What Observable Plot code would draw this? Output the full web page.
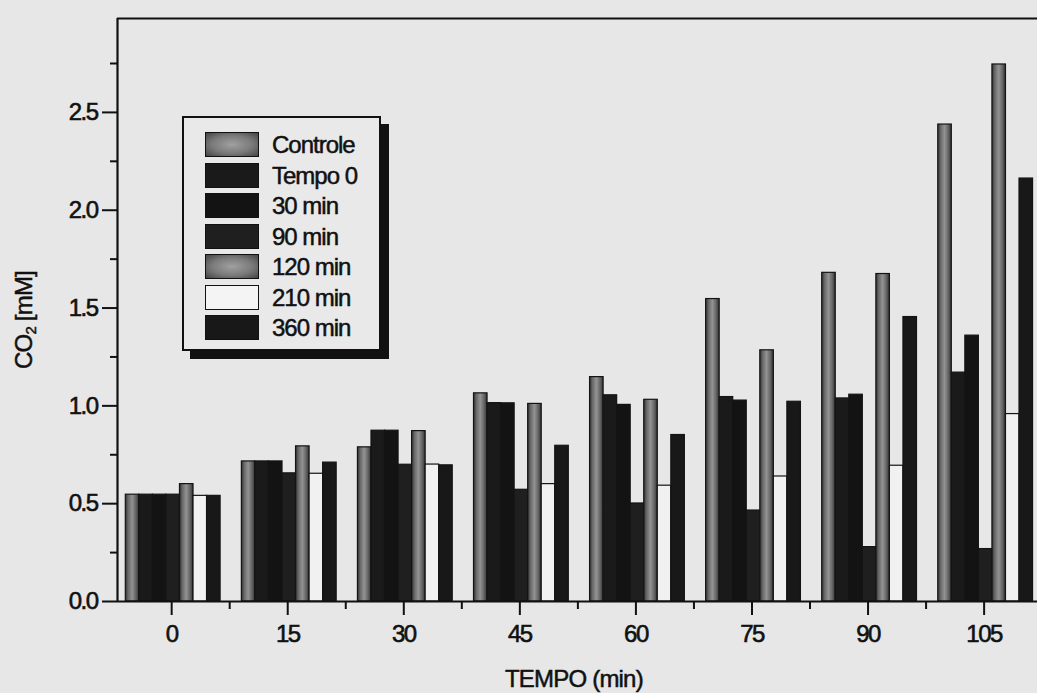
<!DOCTYPE html>
<html>
<head>
<meta charset="utf-8">
<script src="https://cdn.jsdelivr.net/npm/d3@7"></script>
<script src="https://cdn.jsdelivr.net/npm/@observablehq/plot@0.6"></script>
<style>
  html, body { margin: 0; padding: 0; background: #e7e7e7; }
  #wrap { position: relative; width: 1037px; height: 693px; overflow: hidden; background: #e7e7e7;
          font-family: "Liberation Sans", Arial, sans-serif; color: #111; }
  #wrap svg text { letter-spacing: -1.5px; stroke: #111; stroke-width: 0.6px; }
  .lab { position: absolute; font-size: 24px; letter-spacing: -0.8px; white-space: nowrap; -webkit-text-stroke: 0.5px #111; }
  #legend { position: absolute; left: 182px; top: 116px; width: 195px; height: 231px;
            border: 2px solid #111; background: #e9e9e9; box-shadow: 8px 8px 0 #111; }
  .row { position: absolute; left: 21px; height: 25px; }
  .sw { position: absolute; left: 0; top: 0; width: 54px; height: 25px; box-sizing: border-box; border: 1px solid #111; }
  .tx { position: absolute; left: 67px; top: -1px; font-size: 24px; line-height: 27px; letter-spacing: -1px; white-space: nowrap; -webkit-text-stroke: 0.5px #111; }
</style>
</head>
<body>
<div id="wrap"></div>
<script>
// ---- data ----
const times = [0, 15, 30, 45, 60, 75, 90, 105];
const series = ["Controle", "Tempo 0", "30 min", "90 min", "120 min", "210 min", "360 min"];
const controle = [0.546, 0.716, 0.788, 1.064, 1.147, 1.546, 1.680, 2.438];
const tempo0   = [0.546, 0.716, 0.873, 1.014, 1.054, 1.045, 1.038, 1.170];
const min30    = [0.546, 0.716, 0.873, 1.013, 1.005, 1.027, 1.057, 1.359];
const min90    = [0.546, 0.655, 0.699, 0.571, 0.501, 0.465, 0.278, 0.268];
const min120   = [0.600, 0.793, 0.871, 1.010, 1.031, 1.284, 1.674, 2.745];
const min210   = [0.540, 0.653, 0.700, 0.600, 0.592, 0.639, 0.694, 0.958];
const min360   = [0.540, 0.710, 0.696, 0.796, 0.851, 1.021, 1.454, 2.162];
const seriesValues = [controle, tempo0, min30, min90, min120, min210, min360];

const xTicks = [0, 15, 30, 45, 60, 75, 90, 105];
const xMinorTicks = [7.5, 22.5, 37.5, 52.5, 67.5, 82.5, 97.5];
const yTicks = [0, 0.5, 1.0, 1.5, 2.0, 2.5];
const yMinorTicks = [0.25, 0.75, 1.25, 1.75, 2.25, 2.75];
const xDomain = [-7, 111.9];
const yDomain = [0, 2.98];

// bar layout inside each time group (in minutes)
const barW = 1.75;
const groupOffset = 0.2 - (series.length * barW) / 2;

const rows = [];
series.forEach((s, i) => {
  times.forEach((t, j) => {
    const x1 = t + groupOffset + i * barW;
    rows.push({ series: s, time: t, value: seriesValues[i][j], x1, x2: x1 + barW });
  });
});

const fills = ["url(#gGray)", "#1a1a1a", "#131313", "#1f1f1f", "url(#gGray)", "#f1f1f1", "#181818"];

const chart = Plot.plot({
  width: 1037,
  height: 693,
  marginLeft: 117,
  marginRight: 0,
  marginTop: 18,
  marginBottom: 92,
  style: { background: "transparent", fontFamily: "Liberation Sans, Arial, sans-serif", color: "#111", overflow: "visible" },
  x: { domain: xDomain, axis: null },
  y: { domain: yDomain, axis: null },
  color: { domain: series, range: fills, legend: false },
  marks: [
    Plot.rectY(rows, { x1: "x1", x2: "x2", y1: 0, y2: "value", fill: "series", stroke: "#141414", strokeWidth: 1.2 }),
    Plot.ruleY([yDomain[0]], { stroke: "#111", strokeWidth: 2.2 }),
    Plot.ruleY([yDomain[1]], { stroke: "#111", strokeWidth: 2 }),
    Plot.ruleX([xDomain[0]], { stroke: "#111", strokeWidth: 2.2 }),
    Plot.axisY({ ticks: yTicks, tickSize: 15, tickPadding: 5, tickFormat: d3.format(".1f"), fontSize: 24, label: null, strokeWidth: 2 }),
    Plot.axisY({ ticks: yMinorTicks, tickSize: 7, tickFormat: () => "", label: null, strokeWidth: 2 }),
    Plot.axisX({ ticks: xTicks, tickSize: 14, tickPadding: 9, tickFormat: d => String(d), fontSize: 24, label: null, strokeWidth: 2 }),
    Plot.axisX({ ticks: xMinorTicks, tickSize: 8, tickFormat: () => "", label: null, strokeWidth: 2 })
  ]
});

// gradient for the grey (screened) bars
const NS = "http://www.w3.org/2000/svg";
const defs = document.createElementNS(NS, "defs");
const grad = document.createElementNS(NS, "linearGradient");
grad.setAttribute("id", "gGray");
grad.setAttribute("x1", "0"); grad.setAttribute("x2", "1");
grad.setAttribute("y1", "0"); grad.setAttribute("y2", "0");
[[0, "#333333"], [0.22, "#6a6a6a"], [0.5, "#939393"], [0.78, "#646464"], [1, "#323232"]].forEach(([o, c]) => {
  const st = document.createElementNS(NS, "stop");
  st.setAttribute("offset", o);
  st.setAttribute("stop-color", c);
  grad.appendChild(st);
});
defs.appendChild(grad);
chart.insertBefore(defs, chart.firstChild);

const wrap = document.getElementById("wrap");
wrap.appendChild(chart);

// axis titles
const xl = document.createElement("div");
xl.className = "lab";
xl.style.left = "505px"; xl.style.top = "665px";
xl.textContent = "TEMPO (min)";
wrap.appendChild(xl);

const yl = document.createElement("div");
yl.className = "lab";
yl.innerHTML = "CO<sub style=\"font-size:15px;vertical-align:-4px\">2</sub> [mM]";
yl.style.left = "24px"; yl.style.top = "320px";
yl.style.transform = "translate(-50%,-50%) rotate(-90deg)";
wrap.appendChild(yl);

// legend
const legend = document.createElement("div");
legend.id = "legend";
const swatchCss = [
  "radial-gradient(ellipse at center, #a0a0a0 0%, #7a7a7a 55%, #444 100%)",
  "#1a1a1a", "#131313", "#1f1f1f",
  "radial-gradient(ellipse at center, #a0a0a0 0%, #7a7a7a 55%, #444 100%)",
  "#f4f4f4", "#181818"
];
series.forEach((s, i) => {
  const r = document.createElement("div");
  r.className = "row";
  r.style.top = (14 + i * 30.5) + "px";
  const sw = document.createElement("div");
  sw.className = "sw";
  sw.style.background = swatchCss[i];
  const tx = document.createElement("div");
  tx.className = "tx";
  tx.textContent = s;
  r.appendChild(sw); r.appendChild(tx);
  legend.appendChild(r);
});
wrap.appendChild(legend);
</script>
</body>
</html>
